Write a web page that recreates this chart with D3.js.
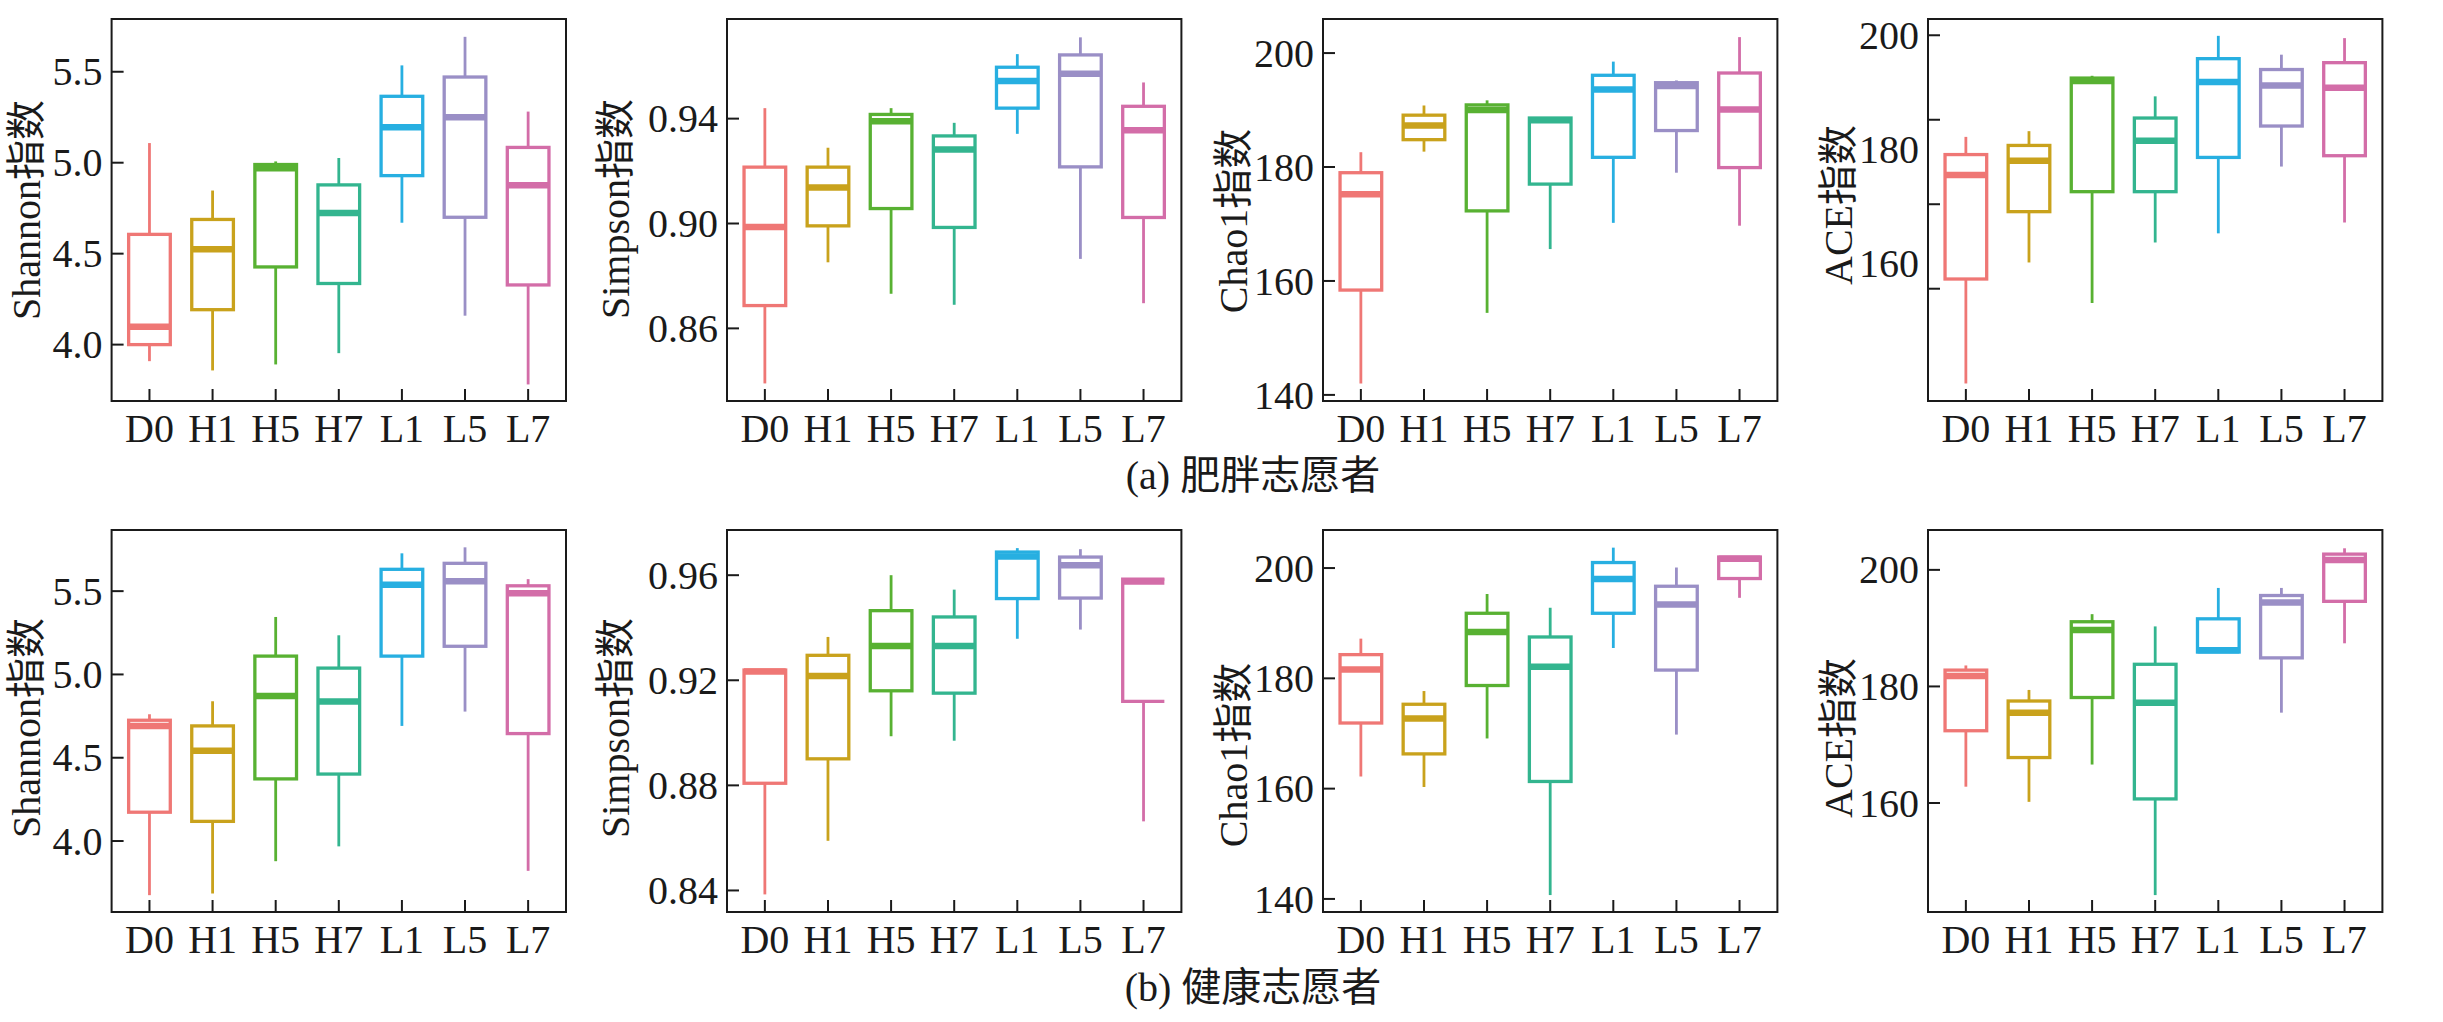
<!DOCTYPE html>
<html>
<head>
<meta charset="utf-8">
<script src="https://cdn.jsdelivr.net/npm/d3@7"></script>
<style>
  html, body { margin: 0; padding: 0; background: #fff; }
  svg text { font-family: "Liberation Serif", "Noto Sans CJK SC", serif; fill: #1a1a1a; }
</style>
</head>
<body>
<div id="chart"></div>
<script>
// 分组与颜色
const groups = ['D0', 'H1', 'H5', 'H7', 'L1', 'L5', 'L7'];
const groupColors = ['#ef7775', '#c9a21c', '#58b132', '#33b58f', '#27afe1', '#9a8fc6', '#d36da8'];
const metricNames = ['Shannon指数', 'Simpson指数', 'Chao1指数', 'ACE指数'];
const captions = ['(a) 肥胖志愿者', '(b) 健康志愿者'];

// 每组: [下须, Q1, 中位数, Q3, 上须]
const obeseShannon = [
  [3.909, 4.0, 4.098, 4.606, 5.108],
  [3.858, 4.192, 4.524, 4.688, 4.847],
  [3.891, 4.427, 4.969, 4.99, 5.007],
  [3.953, 4.336, 4.724, 4.878, 5.026],
  [4.67, 4.929, 5.195, 5.365, 5.535],
  [4.159, 4.70, 5.25, 5.471, 5.692],
  [3.781, 4.328, 4.876, 5.084, 5.281]
];
const obeseSimpson = [
  [0.839, 0.8687, 0.8987, 0.9215, 0.944],
  [0.8852, 0.8991, 0.9137, 0.9215, 0.9289],
  [0.8732, 0.9057, 0.939, 0.9416, 0.944],
  [0.869, 0.8985, 0.9282, 0.9334, 0.9384],
  [0.9342, 0.944, 0.9544, 0.9596, 0.9646],
  [0.8865, 0.9216, 0.9571, 0.9643, 0.971],
  [0.8696, 0.9023, 0.9356, 0.9447, 0.9538]
];
const obeseChao1 = [
  [142.0, 158.4, 175.2, 179.0, 182.6],
  [182.7, 184.8, 187.3, 189.1, 190.8],
  [154.4, 172.3, 190.0, 190.9, 191.7],
  [165.6, 177.0, 188.2, 188.6, 188.6],
  [170.2, 181.7, 193.6, 196.1, 198.5],
  [179.0, 186.4, 194.2, 194.8, 195.2],
  [169.7, 179.9, 190.1, 196.5, 202.8]
];
const obeseACE = [
  [139.0, 157.3, 175.5, 179.1, 182.2],
  [160.2, 169.1, 178.0, 180.7, 183.2],
  [153.1, 172.6, 192.0, 192.5, 192.9],
  [163.7, 172.6, 181.5, 185.5, 189.3],
  [165.3, 178.6, 191.8, 195.9, 199.9],
  [177.0, 184.1, 191.2, 194.0, 196.6],
  [167.2, 178.9, 190.8, 195.2, 199.5]
];
const healthyShannon = [
  [3.675, 4.173, 4.691, 4.725, 4.761],
  [3.685, 4.118, 4.542, 4.691, 4.839],
  [3.879, 4.373, 4.871, 5.11, 5.345],
  [3.968, 4.402, 4.837, 5.038, 5.235],
  [4.691, 5.11, 5.538, 5.631, 5.727],
  [4.777, 5.169, 5.56, 5.667, 5.763],
  [3.821, 4.645, 5.488, 5.532, 5.572]
];
const healthySimpson = [
  [0.8385, 0.8808, 0.9233, 0.9239, 0.9239],
  [0.8589, 0.8901, 0.9216, 0.9295, 0.9365],
  [0.8987, 0.916, 0.933, 0.9465, 0.96],
  [0.897, 0.9151, 0.933, 0.9441, 0.9545],
  [0.9358, 0.9511, 0.9671, 0.9688, 0.9703],
  [0.9393, 0.9513, 0.9638, 0.9669, 0.9699],
  [0.8663, 0.912, 0.9576, 0.9585, 0.9589]
];
const healthyChao1 = [
  [162.2, 171.9, 181.6, 184.3, 187.2],
  [160.3, 166.3, 172.7, 175.3, 177.7],
  [169.1, 178.7, 188.4, 191.8, 195.3],
  [140.7, 161.3, 182.1, 187.5, 192.8],
  [185.5, 191.8, 198.0, 201.0, 203.7],
  [169.8, 181.5, 193.4, 196.7, 200.1],
  [194.6, 198.1, 201.7, 202.0, 202.0]
];
const healthyACE = [
  [162.8, 172.4, 181.8, 182.8, 183.6],
  [160.2, 167.8, 175.5, 177.5, 179.4],
  [166.6, 178.1, 189.7, 191.1, 192.4],
  [144.2, 160.7, 177.2, 183.8, 190.3],
  [185.8, 185.9, 186.2, 191.6, 196.9],
  [175.5, 184.9, 194.4, 195.6, 196.9],
  [187.4, 194.6, 201.7, 202.7, 203.7]
];

// y轴范围
const obeseDomains = [[3.69, 5.79], [0.8323, 0.978], [138.93, 205.98], [135.93, 202.85]];
const healthyDomains = [[3.574, 5.867], [0.8318, 0.9772], [137.63, 206.9], [141.3, 206.84]];

// 刻度
const shannonTicks = [4.0, 4.5, 5.0, 5.5];
const simpsonObeseTicks = [0.86, 0.90, 0.94];
const simpsonHealthyTicks = [0.84, 0.88, 0.92, 0.96];
const chao1Ticks = [140, 160, 180, 200];
const aceTicks = [160, 180, 200];
// 原图 ACE(a) 的刻度线与标签没有对齐
const aceObeseTickMarks = [155.6, 170.4, 185.2, 200];
const tickFormats = [d3.format('.1f'), d3.format('.2f'), d3.format('d'), d3.format('d')];

const rows = [
  {
    data: [obeseShannon, obeseSimpson, obeseChao1, obeseACE],
    domains: obeseDomains,
    ticks: [shannonTicks, simpsonObeseTicks, chao1Ticks, aceTicks],
    tickMarks: [shannonTicks, simpsonObeseTicks, chao1Ticks, aceObeseTickMarks]
  },
  {
    data: [healthyShannon, healthySimpson, healthyChao1, healthyACE],
    domains: healthyDomains,
    ticks: [shannonTicks, simpsonHealthyTicks, chao1Ticks, aceTicks],
    tickMarks: [shannonTicks, simpsonHealthyTicks, chao1Ticks, aceTicks]
  }
];

// (b) Simpson 的 L7 箱体右边缺一条边
const openRightBoxes = [{ row: 1, panel: 1, group: 'L7' }];

// 版面
const W = 2443, H = 1022;
const panelLefts = [111.6, 727, 1323, 1928];
const panelWidth = 454.4;
const rowTops = [19, 530];
const panelHeight = 382;
const yLabelOffsets = [-72, -98, -76, -76.5];
const yLabelShifts = [[0, -1, 11, -5], [7, 7, 34, 17]];
const captionX = 1253;
const captionBaselines = [489, 1001];
const fontSize = 40;
const tickLen = 12;

const svg = d3.select('#chart').append('svg')
  .attr('width', W)
  .attr('height', H)
  .style('display', 'block');

svg.append('rect').attr('width', W).attr('height', H).attr('fill', '#fff');

function drawPanel(rowIdx, pIdx) {
  const row = rows[rowIdx];
  const left = panelLefts[pIdx];
  const top = rowTops[rowIdx];
  const bottom = top + panelHeight;
  const right = left + panelWidth;

  const x = d3.scalePoint().domain(groups).range([left, right]).padding(0.6);
  const y = d3.scaleLinear().domain(row.domains[pIdx]).range([bottom, top]);
  const step = x.step();
  const boxW = step * 0.66;

  const g = svg.append('g');

  // 须线
  const stats = row.data[pIdx];
  stats.forEach((s, i) => {
    const cx = x(groups[i]);
    const col = groupColors[i];
    g.append('line')
      .attr('x1', cx).attr('x2', cx)
      .attr('y1', y(s[3])).attr('y2', y(s[4]))
      .attr('stroke', col).attr('stroke-width', 2.8);
    g.append('line')
      .attr('x1', cx).attr('x2', cx)
      .attr('y1', y(s[1])).attr('y2', y(s[0]))
      .attr('stroke', col).attr('stroke-width', 2.8);

    const open = openRightBoxes.some(o => o.row === rowIdx && o.panel === pIdx && o.group === groups[i]);
    const x0 = cx - boxW / 2, x1 = cx + boxW / 2;
    if (open) {
      g.append('path')
        .attr('d', `M${x1},${y(s[3])}L${x0},${y(s[3])}L${x0},${y(s[1])}L${x1},${y(s[1])}`)
        .attr('fill', 'none')
        .attr('stroke', col).attr('stroke-width', 3.3);
    } else {
      g.append('rect')
        .attr('x', x0).attr('width', boxW)
        .attr('y', y(s[3])).attr('height', y(s[1]) - y(s[3]))
        .attr('fill', '#fff')
        .attr('stroke', col).attr('stroke-width', 3.3);
    }
    // 中位数加粗
    g.append('line')
      .attr('x1', x0).attr('x2', x1)
      .attr('y1', y(s[2])).attr('y2', y(s[2]))
      .attr('stroke', col).attr('stroke-width', 6.5);
  });

  // 坐标框
  g.append('rect')
    .attr('x', left).attr('y', top)
    .attr('width', panelWidth).attr('height', panelHeight)
    .attr('fill', 'none').attr('stroke', '#1a1a1a').attr('stroke-width', 2);

  // 刻度朝内
  g.selectAll('.ytick').data(row.tickMarks[pIdx]).enter().append('line')
    .attr('x1', left).attr('x2', left + tickLen)
    .attr('y1', d => y(d)).attr('y2', d => y(d))
    .attr('stroke', '#1a1a1a').attr('stroke-width', 2);
  g.selectAll('.xtick').data(groups).enter().append('line')
    .attr('x1', d => x(d)).attr('x2', d => x(d))
    .attr('y1', bottom).attr('y2', bottom - tickLen)
    .attr('stroke', '#1a1a1a').attr('stroke-width', 2);

  // 刻度标签
  g.selectAll('.ylab').data(row.ticks[pIdx]).enter().append('text')
    .attr('x', left - 9)
    .attr('y', d => y(d))
    .attr('dy', '0.34em')
    .attr('text-anchor', 'end')
    .style('font-size', fontSize + 'px')
    .text(d => tickFormats[pIdx](d));
  g.selectAll('.xlab').data(groups).enter().append('text')
    .attr('x', d => x(d))
    .attr('y', bottom + 40.5)
    .attr('text-anchor', 'middle')
    .style('font-size', fontSize + 'px')
    .text(d => d);

  // y轴标题
  const lx = left + yLabelOffsets[pIdx];
  const ly = (top + bottom) / 2 + yLabelShifts[rowIdx][pIdx];
  g.append('text')
    .attr('transform', `translate(${lx},${ly}) rotate(-90)`)
    .attr('text-anchor', 'middle')
    .style('font-size', fontSize + 'px')
    .text(metricNames[pIdx]);
}

rows.forEach((row, r) => {
  metricNames.forEach((m, p) => drawPanel(r, p));
  svg.append('text')
    .attr('x', captionX)
    .attr('y', captionBaselines[r])
    .attr('text-anchor', 'middle')
    .style('font-size', fontSize + 'px')
    .text(captions[r]);
});
</script>
</body>
</html>
